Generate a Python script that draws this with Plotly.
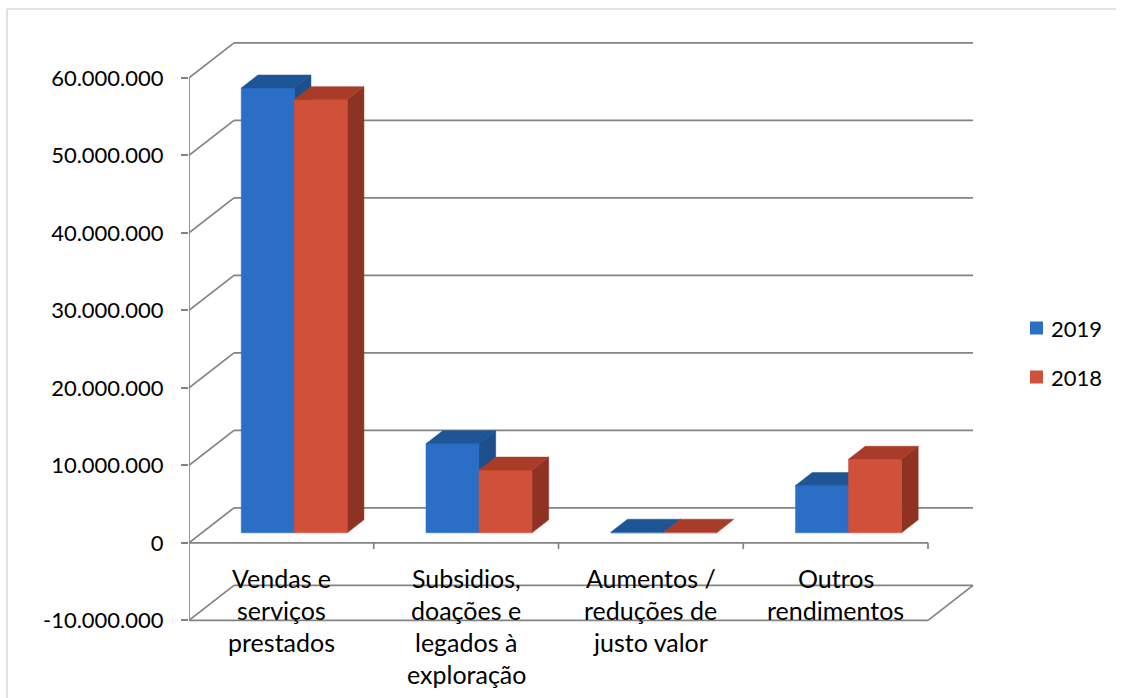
import plotly.graph_objects as go

# ---------------- data ----------------
categories = [
    "Vendas e<br>serviços<br>prestados",
    "Subsidios,<br>doações e<br>legados à<br>exploração",
    "Aumentos /<br>reduções de<br>justo valor",
    "Outros<br>rendimentos",
]
series_names = ["2019", "2018"]
values_2019 = [57_400_000, 11_500_000, 80_000, 6_100_000]
values_2018 = [55_900_000, 8_100_000, 80_000, 9_500_000]
tick_vals = [-10_000_000, 0, 10_000_000, 20_000_000, 30_000_000, 40_000_000, 50_000_000, 60_000_000]
tick_text = ["-10.000.000", "0", "10.000.000", "20.000.000", "30.000.000",
             "40.000.000", "50.000.000", "60.000.000"]

# ---------------- styling / geometry ----------------
W, H = 1122, 698
PX_PER_CAT = 184.75
PX_PER_UNIT = 7.75 / 1e6
L, T = 189, 39
PLOT_W = 786
PLOT_H = 586
Y_MIN = -10_600_000
Y_MAX = Y_MIN + PLOT_H / PX_PER_UNIT
X_MIN = -0.5
X_MAX = X_MIN + PLOT_W / PX_PER_CAT

DX = 45 / PX_PER_CAT            # wall depth (x units)
DY = 35 / PX_PER_UNIT           # wall depth (y units)
F0, F1 = 10 / 35, 23 / 35       # bar front/back depth fractions
BAR_W = 53 / PX_PER_CAT

GRID = "#838383"
colors = {
    "2019": {"front": "#2a6ec6", "top": "#1d5597", "side": "#1c4f8b"},
    "2018": {"front": "#d1503a", "top": "#a83c28", "side": "#8e3324"},
}
FONT = "Lato"
FS_TICK = 22
FS_CAT = 25
FS_LEG = 22

def px_to_paper_x(px):
    return (px - L) / PLOT_W

def px_to_paper_y(py):
    return 1 - (py - T) / PLOT_H

fig = go.Figure()

# ---------------- walls / gridlines ----------------
gx, gy = [], []
def seg(x0, y0, x1, y1):
    gx.extend([x0, x1, None]); gy.extend([y0, y1, None])

n = len(categories)
x_left, x_right = -0.5, n - 0.5
for v in tick_vals:
    seg(x_left + DX, v + DY, x_right + DX, v + DY)   # back wall
    seg(x_left, v, x_left + DX, v + DY)               # side wall
vmin, vmax = tick_vals[0], tick_vals[-1]
seg(x_left, vmin, x_right, vmin)                      # floor front edge
seg(x_right, vmin, x_right + DX, vmin + DY)           # floor right edge
seg(x_left, vmin, x_left, vmax)                       # value axis
seg(x_left, 0, x_right, 0)                            # category axis
for i in range(n):
    seg(i + 0.5, 0, i + 0.5, -0.8e6)                  # category ticks

fig.add_trace(go.Scatter(x=gx, y=gy, mode="lines", line=dict(color=GRID, width=1.7),
                         hoverinfo="skip", showlegend=False))

# ---------------- 3D bars ----------------
ddx = (F1 - F0) * DX
ddy = (F1 - F0) * DY
base = F0 * DY
for s, (name, vals) in enumerate(zip(series_names, [values_2019, values_2018])):
    faces = {"side": ([], []), "front": ([], []), "top": ([], [])}
    for i, v in enumerate(vals):
        x0 = i - BAR_W + s * BAR_W + F0 * DX
        x1 = x0 + BAR_W
        yb, yt = base, base + v
        fx, fy = faces["side"]
        fx += [x1, x1 + ddx, x1 + ddx, x1, x1, None]
        fy += [yb, yb + ddy, yt + ddy, yt, yb, None]
        fx, fy = faces["front"]
        fx += [x0, x1, x1, x0, x0, None]
        fy += [yb, yb, yt, yt, yb, None]
        fx, fy = faces["top"]
        fx += [x0, x1, x1 + ddx, x0 + ddx, x0, None]
        fy += [yt, yt, yt + ddy, yt + ddy, yt, None]
    for face in ["side", "front", "top"]:
        c = colors[name][face]
        fx, fy = faces[face]
        fig.add_trace(go.Scatter(x=fx, y=fy, mode="lines", fill="toself", fillcolor=c,
                                 line=dict(color=c, width=0.5), hoverinfo="skip",
                                 name=name, showlegend=False))

# ---------------- category labels ----------------
LINE_PX = 32
FIRST_LINE_PX = 578
for i, cat in enumerate(categories):
    for k, line in enumerate(cat.split("<br>")):
        py = FIRST_LINE_PX + k * LINE_PX
        fig.add_annotation(x=i, y=px_to_paper_y(py), xref="x", yref="paper", text=line,
                           showarrow=False, xanchor="center", yanchor="middle",
                           font=dict(family=FONT, size=FS_CAT, color="black"))

# ---------------- legend (drawn) ----------------
LEG_ROWS_PX = [328, 377]
for name, py in zip(series_names, LEG_ROWS_PX):
    fig.add_shape(type="rect", xref="paper", yref="paper",
                  x0=px_to_paper_x(1030), x1=px_to_paper_x(1043),
                  y0=px_to_paper_y(py + 6.5), y1=px_to_paper_y(py - 6.5),
                  fillcolor=colors[name]["front"], line=dict(width=0))
    fig.add_annotation(x=px_to_paper_x(1049), y=px_to_paper_y(py), xref="paper", yref="paper",
                       text=name, showarrow=False, xanchor="left", yanchor="middle",
                       font=dict(family=FONT, size=FS_LEG, color="black"))

# ---------------- chart border ----------------
fig.add_shape(type="line", xref="paper", yref="paper",
              x0=px_to_paper_x(7), x1=px_to_paper_x(1116),
              y0=px_to_paper_y(9), y1=px_to_paper_y(9),
              line=dict(color="#d9d9d9", width=1.5))
fig.add_shape(type="line", xref="paper", yref="paper",
              x0=px_to_paper_x(7), x1=px_to_paper_x(7),
              y0=px_to_paper_y(9), y1=px_to_paper_y(H),
              line=dict(color="#d9d9d9", width=1.5))

fig.update_layout(
    width=W, height=H,
    margin=dict(l=L, r=W - L - PLOT_W, t=T, b=H - T - PLOT_H),
    paper_bgcolor="white", plot_bgcolor="white",
    font=dict(family=FONT, size=FS_TICK, color="black"),
    xaxis=dict(range=[X_MIN, X_MAX], showgrid=False, zeroline=False, showline=False,
               showticklabels=False, ticks=""),
    yaxis=dict(range=[Y_MIN, Y_MAX], showgrid=False, zeroline=False, showline=False,
               tickvals=tick_vals, ticktext=tick_text, ticks="outside", ticklen=7,
               tickcolor=GRID, tickwidth=1.7, ticklabelstandoff=13,
               tickfont=dict(family=FONT, size=FS_TICK, color="black")),
    showlegend=False,
)

fig.write_html("out.html", config={"displayModeBar": False},
               post_script="document.body.style.margin='0';")
